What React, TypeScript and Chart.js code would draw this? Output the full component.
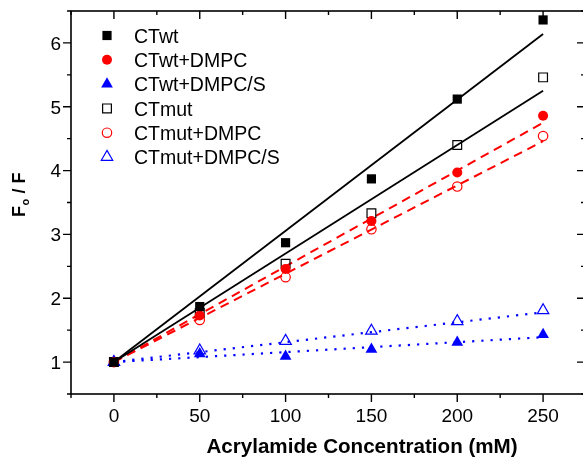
import React, { useEffect, useRef } from 'react';
import { Chart, registerables } from 'chart.js';
import { drawPoint } from 'chart.js/helpers';

Chart.register(...registerables);

// ---- data ----
const concentrations = [0, 50, 100, 150, 200, 250];
const ctWt = [1, 1.87, 2.87, 3.87, 5.12, 6.36];
const ctWtDmpc = [1, 1.73, 2.46, 3.21, 3.97, 4.86];
const ctWtDmpcS = [1, 1.13, 1.09, 1.2, 1.31, 1.43];
const ctMut = [1, 1.77, 2.54, 3.33, 4.4, 5.46];
const ctMutDmpc = [1, 1.66, 2.33, 3.08, 3.75, 4.54];
const ctMutDmpcS = [1, 1.18, 1.33, 1.49, 1.64, 1.81];

// fitted lines (start / end)
const fitX = [0, 250];
const fitCtWt = [1, 6.14];
const fitCtMut = [1, 5.25];
const fitCtWtDmpc = [1, 4.75];
const fitCtMutDmpc = [1, 4.46];
const fitCtWtDmpcS = [1, 1.39];
const fitCtMutDmpcS = [1, 1.78];

// axis ticks
const xMajorTicks = [0, 50, 100, 150, 200, 250];
const xMinorTicks = [-25, 25, 75, 125, 175, 225, 275];
const yMajorTicks = [1, 2, 3, 4, 5, 6];
const yMinorTicks = [0.5, 1.5, 2.5, 3.5, 4.5, 5.5, 6.5];

const xTitle = 'Acrylamide Concentration (mM)';

const FONT = '"Liberation Sans", Arial, Helvetica, sans-serif';

const toPts = (xs: number[], ys: number[]) => xs.map((x, i) => ({ x, y: ys[i] }));

type Series = {
  label: string;
  values: number[];
  pointStyle: string;
  color: string;
  filled: boolean;
  radius: number;
};

const series: Series[] = [
  { label: 'CTwt', values: ctWt, pointStyle: 'rect', color: '#000000', filled: true, radius: 6.5 },
  { label: 'CTwt+DMPC', values: ctWtDmpc, pointStyle: 'circle', color: '#ff0000', filled: true, radius: 5 },
  { label: 'CTwt+DMPC/S', values: ctWtDmpcS, pointStyle: 'triangle', color: '#0000ff', filled: true, radius: 6.8 },
  { label: 'CTmut', values: ctMut, pointStyle: 'rect', color: '#000000', filled: false, radius: 6.2 },
  { label: 'CTmut+DMPC', values: ctMutDmpc, pointStyle: 'circle', color: '#ff0000', filled: false, radius: 4.7 },
  { label: 'CTmut+DMPC/S', values: ctMutDmpcS, pointStyle: 'triangle', color: '#0000ff', filled: false, radius: 6.6 },
];

type Fit = { values: number[]; color: string; dash: number[]; width: number; cap: CanvasLineCap };
const fits: Fit[] = [
  { values: fitCtWt, color: '#000000', dash: [], width: 1.8, cap: 'butt' },
  { values: fitCtMut, color: '#000000', dash: [], width: 1.8, cap: 'butt' },
  { values: fitCtWtDmpc, color: '#ff0000', dash: [9, 6], width: 2, cap: 'butt' },
  { values: fitCtMutDmpc, color: '#ff0000', dash: [9, 6], width: 2, cap: 'butt' },
  { values: fitCtWtDmpcS, color: '#0000ff', dash: [2.2, 7], width: 2.2, cap: 'butt' },
  { values: fitCtMutDmpcS, color: '#0000ff', dash: [2.2, 7], width: 2.2, cap: 'butt' },
];

const originPlugin = {
  id: 'originFrame',
  afterDatasetsDraw(chart: any) {
    const { ctx, chartArea: a, scales } = chart;
    const xs = scales.x;
    const ys = scales.y;
    ctx.save();

    // frame
    ctx.strokeStyle = '#000';
    ctx.lineWidth = 1.6;
    ctx.setLineDash([]);
    ctx.strokeRect(a.left, a.top, a.right - a.left, a.bottom - a.top);

    // ticks
    ctx.lineWidth = 1.4;
    ctx.beginPath();
    const xt = (v: number, len: number) => {
      const px = xs.getPixelForValue(v);
      ctx.moveTo(px, a.bottom);
      ctx.lineTo(px, a.bottom + len);
      ctx.moveTo(px, a.top);
      ctx.lineTo(px, a.top + len);
    };
    const yt = (v: number, len: number) => {
      const py = ys.getPixelForValue(v);
      ctx.moveTo(a.left, py);
      ctx.lineTo(a.left - len, py);
      ctx.moveTo(a.right, py);
      ctx.lineTo(a.right - len - 1, py);
    };
    xMajorTicks.forEach((v) => xt(v, 8));
    xMinorTicks.forEach((v) => xt(v, 4));
    yMajorTicks.forEach((v) => yt(v, 8));
    yMinorTicks.forEach((v) => yt(v, 4));
    ctx.stroke();

    // tick labels
    ctx.fillStyle = '#000';
    ctx.font = `19px ${FONT}`;
    ctx.textBaseline = 'alphabetic';
    ctx.textAlign = 'center';
    xMajorTicks.forEach((v) => ctx.fillText(String(v), xs.getPixelForValue(v), a.bottom + 28));
    ctx.textAlign = 'right';
    yMajorTicks.forEach((v) => ctx.fillText(String(v), a.left - 10, ys.getPixelForValue(v) + 6.8));

    // x title
    ctx.font = `bold 20.6px ${FONT}`;
    ctx.textAlign = 'center';
    ctx.fillText(xTitle, a.left + 291, a.bottom + 59);

    // y title  F_o / F
    ctx.save();
    ctx.translate(25, 217);
    ctx.rotate(-Math.PI / 2);
    ctx.textAlign = 'left';
    ctx.font = `bold 18px ${FONT}`;
    ctx.fillText('F', 0, 0);
    let w = ctx.measureText('F').width;
    ctx.font = `bold 11px ${FONT}`;
    ctx.fillText('o', w + 0.5, 4);
    w += ctx.measureText('o').width + 0.8;
    ctx.font = `bold 18px ${FONT}`;
    ctx.fillText(' / F', w, 0);
    ctx.restore();

    // legend
    const lx = a.left + 36;
    const tx = a.left + 63;
    series.forEach((s, i) => {
      const cy = 35.5 + i * 24.3;
      ctx.fillStyle = s.filled ? s.color : 'rgba(0,0,0,0)';
      ctx.strokeStyle = s.color;
      ctx.lineWidth = 1.2;
      drawPoint(ctx, { pointStyle: s.pointStyle as any, rotation: 0, radius: s.radius, borderWidth: s.filled ? 0 : 1.2 }, lx, cy);
      ctx.fillStyle = '#000';
      ctx.font = `19.5px ${FONT}`;
      ctx.textAlign = 'left';
      ctx.fillText(s.label, tx, cy + 7.3);
    });

    ctx.restore();
  },
};

export default function App() {
  const ref = useRef<HTMLCanvasElement | null>(null);

  useEffect(() => {
    if (!ref.current) return;
    const lineSets = fits.map((f) => ({
      label: '',
      data: toPts(fitX, f.values),
      showLine: true,
      borderColor: f.color,
      borderWidth: f.width,
      borderDash: f.dash,
      borderCapStyle: f.cap,
      pointRadius: 0,
      fill: false,
      order: 20,
    }));
    const pointSets = series.map((s, i) => ({
      label: s.label,
      data: toPts(concentrations, s.values),
      showLine: false,
      pointStyle: s.pointStyle,
      pointRadius: s.radius,
      pointBackgroundColor: s.filled ? s.color : 'rgba(0,0,0,0)',
      pointBorderColor: s.color,
      pointBorderWidth: s.filled ? 0 : 1.2,
      order: i,
    }));
    const chart = new Chart(ref.current, {
      type: 'scatter',
      data: { datasets: [...lineSets, ...pointSets] as any },
      options: {
        responsive: false,
        animation: false,
        devicePixelRatio: 1,
        layout: { padding: { left: 71, top: 11, right: 14, bottom: 64 } },
        scales: {
          x: { type: 'linear', display: false, min: -25, max: 275 },
          y: { type: 'linear', display: false, min: 0.5, max: 6.5 },
        },
        plugins: { legend: { display: false }, tooltip: { enabled: false } },
        elements: { line: { tension: 0 } },
      },
      plugins: [originPlugin],
    });
    return () => chart.destroy();
  }, []);

  return (
    <div
      style={{
        position: 'fixed',
        left: 0,
        top: 0,
        width: 583,
        height: 458,
        overflow: 'hidden',
        background: '#fff',
      }}
    >
      <canvas ref={ref} width={600} height={458} style={{ display: 'block' }} />
    </div>
  );
}
